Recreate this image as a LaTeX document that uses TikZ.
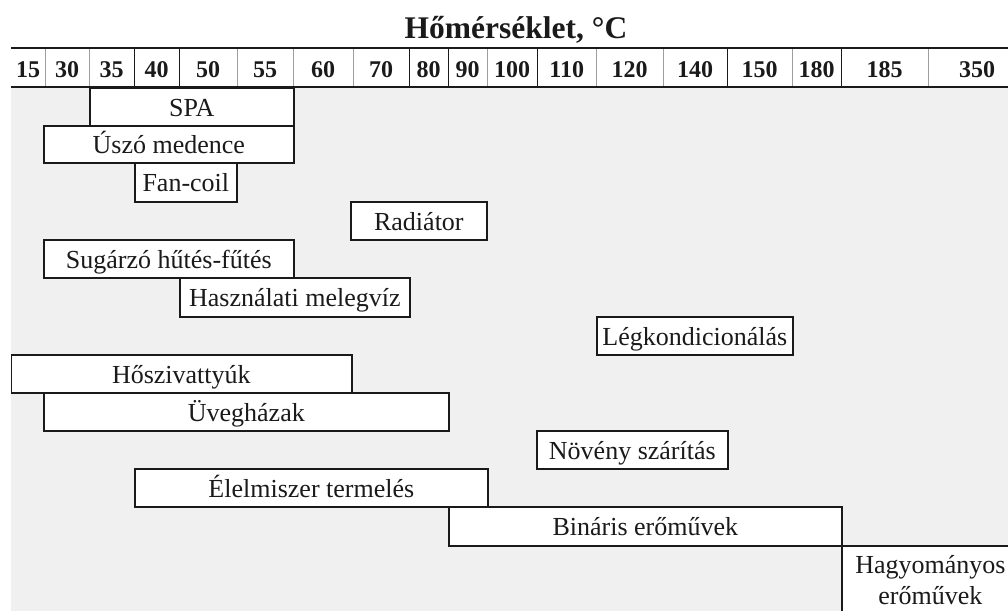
\documentclass[tikz,border=0pt]{standalone}
\usepackage{fontspec}
\setmainfont{Liberation Serif}
\definecolor{panel}{HTML}{F0F0F0}
\definecolor{ink}{HTML}{1A1A1A}
\begin{document}
\begin{tikzpicture}[x=1pt,y=-1pt,
  bar/.style={draw=ink, line width=1.7pt, fill=white, inner sep=0pt,
    anchor=north west, text height=19pt, text depth=0pt, text=ink,
    font=\fontsize{26}{31}\selectfont},
  cell/.style={inner sep=0pt, anchor=north west, minimum height=39pt,
    text height=19pt, text depth=0pt, text=ink,
    font=\bfseries\fontsize{24}{28}\selectfont},
  darksep/.style={draw=ink, line width=1.5pt},
  lightsep/.style={draw=black!38, line width=1.5pt},
  rule/.style={draw=ink, line width=2pt}]
\useasboundingbox (0,0) rectangle (1008,610);

% title
\node[font=\bfseries\fontsize{31.5}{36}\selectfont, text=ink, anchor=base]
  (title) at (516,38) {Hőmérséklet, °C};

\begin{scope}
\clip (11,0) rectangle (1008,610);
% chart panel
\fill[panel] (11,87) rectangle (1030,640);

% temperature header cells: label / left / right
\foreach \t/\a/\b in {15/11/45, 30/45/89, 35/89/134, 40/134/179, 50/179/237,
    55/237/293, 60/293/353, 70/353/409, 80/409/448, 90/448/487, 100/487/537,
    110/537/596, 120/596/663, 140/663/727, 150/727/792, 180/792/841,
    185/841/928, 350/928/1026}
  \node[cell, minimum width={(\b-\a)*1pt}] (h\t) at (\a,48) {\t};

% column separators
\foreach \t/\s in {15/lightsep, 30/lightsep, 35/darksep, 40/darksep,
    50/lightsep, 55/lightsep, 60/lightsep, 70/darksep, 80/darksep,
    90/lightsep, 100/darksep, 110/lightsep, 120/lightsep, 140/darksep,
    150/lightsep, 180/darksep, 185/lightsep}
  \draw[\s] (h\t.north east) -- (h\t.south east);

\draw[rule] (h15.north west) -- (h350.north east);

% application ranges
\node[bar, minimum width=204pt, minimum height=38pt] (spa) at (89,87) {SPA};
\node[bar, minimum width=250pt, minimum height=37pt] (uszo) at (43,125) {Úszó medence};
\node[bar, minimum width=102pt, minimum height=39pt] (fancoil) at (134,162) {Fan-coil};
\node[bar, minimum width=136pt, minimum height=38pt] (radiator) at (350,201) {Radiátor};
\node[bar, minimum width=250pt, minimum height=38pt] (sugarzo) at (43,239) {Sugárzó hűtés-fűtés};
\node[bar, minimum width=230pt, minimum height=39pt] (melegviz) at (179,277) {Használati melegvíz};
\node[bar, minimum width=196pt, minimum height=38pt] (legkond) at (596,316) {Légkondicionálás};
\node[bar, minimum width=341pt, minimum height=38pt] (hoszivattyu) at (10,354) {Hőszivattyúk};
\node[bar, minimum width=405pt, minimum height=38pt] (uveghaz) at (43,392) {Üvegházak};
\node[bar, minimum width=191pt, minimum height=38pt] (noveny) at (536,430) {Növény szárítás};
\node[bar, minimum width=353pt, minimum height=38pt] (elelmiszer) at (134,468) {Élelmiszer termelés};
\node[bar, minimum width=393pt, minimum height=39pt] (binaris) at (448,506) {Bináris erőművek};
\node[bar, minimum width=177pt, align=center, text height=59pt, text depth=40pt]
  (hagyomanyos) at (841,545) {Hagyományos\\erőművek};

\draw[rule] (h15.south west) -- (h350.south east);
\end{scope}
\end{tikzpicture}
\end{document}
